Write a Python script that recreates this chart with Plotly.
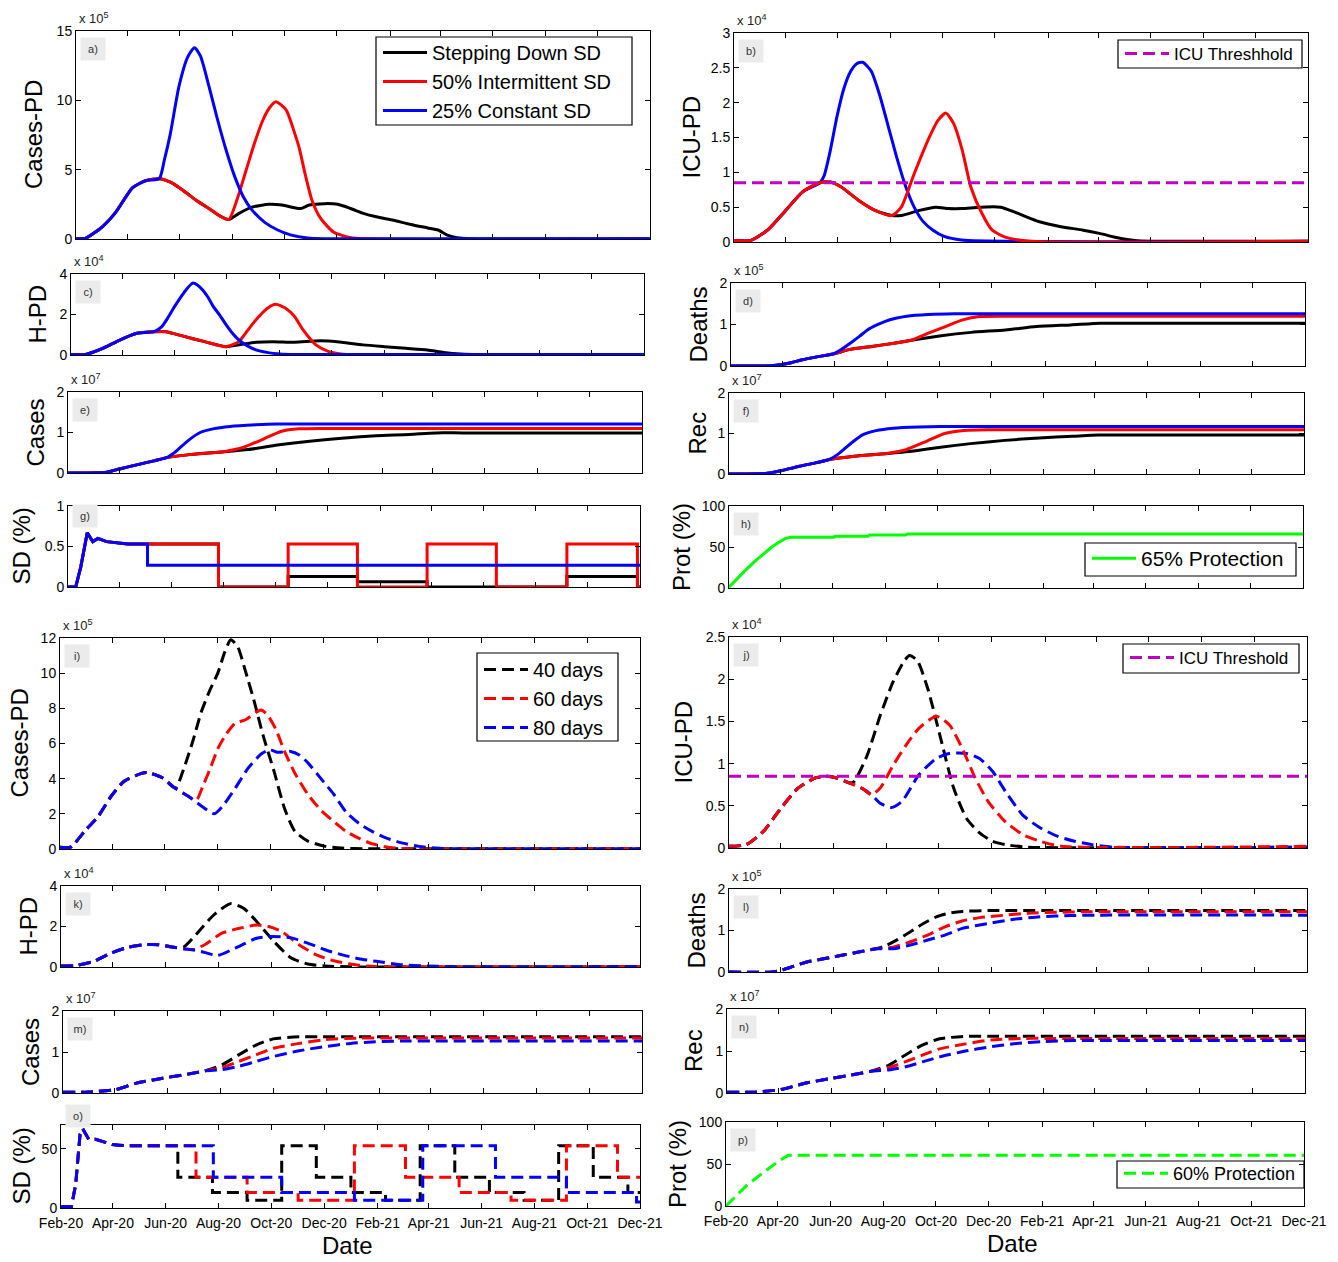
import plotly.graph_objects as go
import pandas as pd

W, H = 1338, 1262

# ---------------- time axis (days since 1 Feb 2020) ----------------
START = pd.Timestamp("2020-02-01")
TICK_LABELS = ["Feb-20", "Apr-20", "Jun-20", "Aug-20", "Oct-20", "Dec-20",
               "Feb-21", "Apr-21", "Jun-21", "Aug-21", "Oct-21", "Dec-21"]
TICK_DAYS = [(d - START).days for d in pd.date_range("2020-02-01", periods=12, freq="2MS")]
X_END = TICK_DAYS[-1]

# ---------------- a) Cases-PD (x1e5) ----------------
A_COMMON_T = [0, 11, 31, 46, 66, 81, 97]
A_COMMON_V = [0.02, 0.05, 0.9, 1.9, 3.7, 4.2, 4.35]
A_BLUE_T = [103, 110, 120, 130, 138, 145, 155, 165, 175, 185, 195, 205, 220, 235, 250, 270, 290, 669]
A_BLUE_V = [5.7, 7.6, 11.0, 13.1, 13.8, 13.2, 11.0, 8.6, 6.4, 4.5, 3.05, 2.1, 1.2, 0.65, 0.3, 0.07, 0.02, 0.02]
A_SPLIT_T = [110, 125, 140, 155, 168, 178]
A_SPLIT_V = [4.1, 3.5, 2.8, 2.2, 1.65, 1.4]
A_RED_T = [188, 198, 208, 218, 226, 233, 245, 255, 260, 267, 275, 285, 300, 315, 330, 669]
A_RED_V = [2.9, 4.9, 6.9, 8.6, 9.5, 9.9, 9.3, 7.6, 6.6, 4.7, 2.8, 1.5, 0.5, 0.17, 0.03, 0.02]
A_BLACK_T = [190, 205, 225, 240, 255, 262, 272, 290, 305, 320, 335, 350, 370, 390, 410, 422, 432, 444, 459, 669]
A_BLACK_V = [1.85, 2.3, 2.5, 2.45, 2.25, 2.2, 2.45, 2.55, 2.5, 2.2, 1.85, 1.6, 1.35, 1.05, 0.8, 0.65, 0.3, 0.1, 0.02, 0.02]

# ---------------- b) ICU-PD (x1e4) ----------------
B_COMMON_T = [0, 19, 39, 60, 80, 100]
B_COMMON_V = [0.02, 0.02, 0.17, 0.45, 0.72, 0.85]
B_BLUE_T = [105, 112, 120, 128, 136, 143, 150, 160, 170, 180, 190, 200, 210, 220, 232, 245, 265, 669]
B_BLUE_V = [0.95, 1.3, 1.8, 2.2, 2.45, 2.56, 2.58, 2.45, 2.1, 1.65, 1.2, 0.8, 0.5, 0.3, 0.17, 0.08, 0.03, 0.01]
B_SPLIT_T = [112, 125, 145, 165, 184]
B_SPLIT_V = [0.86, 0.79, 0.6, 0.45, 0.38]
B_RED_T = [195, 210, 226, 238, 247, 256, 266, 276, 289, 301, 316, 346, 669]
B_RED_V = [0.5, 0.98, 1.46, 1.75, 1.85, 1.7, 1.32, 0.79, 0.41, 0.17, 0.07, 0.01, 0.01]
B_BLACK_T = [195, 215, 235, 250, 266, 286, 311, 331, 356, 381, 407, 427, 447, 467, 488, 669]
B_BLACK_V = [0.38, 0.45, 0.5, 0.48, 0.48, 0.5, 0.5, 0.41, 0.29, 0.22, 0.17, 0.12, 0.06, 0.02, 0.01, 0.01]
ICU_THRESHOLD = 0.85

# ---------------- c) H-PD (x1e4) ----------------
C_COMMON_T = [0, 17, 37, 57, 77, 97]
C_COMMON_V = [0.03, 0.03, 0.33, 0.74, 1.07, 1.15]
C_BLUE_T = [106, 114, 121, 128, 134, 142, 148, 154, 160, 166, 174, 181, 188, 196, 206, 216, 236, 266, 669]
C_BLUE_V = [1.4, 1.9, 2.4, 2.85, 3.2, 3.55, 3.45, 3.2, 2.85, 2.4, 1.95, 1.5, 1.1, 0.74, 0.45, 0.25, 0.08, 0.02, 0.02]
C_SPLIT_T = [111, 131, 156, 181]
C_SPLIT_V = [1.15, 0.93, 0.66, 0.41]
C_RED_T = [196, 206, 216, 229, 239, 251, 261, 271, 286, 301, 321, 669]
C_RED_V = [0.66, 1.2, 1.74, 2.3, 2.5, 2.3, 1.9, 1.24, 0.5, 0.17, 0.03, 0.03]
C_BLACK_T = [196, 216, 236, 261, 291, 316, 341, 366, 391, 416, 435, 455, 475, 669]
C_BLACK_V = [0.5, 0.63, 0.66, 0.63, 0.7, 0.63, 0.5, 0.41, 0.33, 0.25, 0.13, 0.05, 0.02, 0.02]

# ---------------- d) Deaths (x1e5) ----------------
D_COMMON_T = [0, 40, 53, 70, 83, 100, 119]
D_COMMON_V = [0.0, 0.0, 0.02, 0.08, 0.15, 0.22, 0.29]
D_BLUE_T = [130, 139, 150, 159, 170, 179, 192, 205, 230, 260, 290, 669]
D_BLUE_V = [0.42, 0.55, 0.72, 0.87, 0.99, 1.07, 1.15, 1.2, 1.24, 1.26, 1.26, 1.26]
D_SPLIT_T = [139, 164, 190, 210]
D_SPLIT_V = [0.4, 0.47, 0.55, 0.62]
D_RED_T = [230, 250, 270, 290, 320, 350, 669]
D_RED_V = [0.79, 0.95, 1.11, 1.19, 1.2, 1.2, 1.2]
D_BLACK_T = [245, 280, 320, 356, 396, 431, 460, 669]
D_BLACK_V = [0.73, 0.81, 0.87, 0.95, 0.99, 1.03, 1.03, 1.03]

# ---------------- e) Cases (x1e7) ----------------
E_COMMON_T = [0, 45, 60, 80, 100, 115]
E_COMMON_V = [0.0, 0.02, 0.1, 0.2, 0.3, 0.38]
E_BLUE_T = [125, 140, 154, 169, 189, 219, 244, 270, 669]
E_BLUE_V = [0.52, 0.8, 1.0, 1.09, 1.15, 1.19, 1.21, 1.21, 1.21]
E_SPLIT_T = [144, 179]
E_SPLIT_V = [0.46, 0.52]
E_RED_T = [204, 229, 249, 269, 299, 330, 669]
E_RED_V = [0.63, 0.85, 1.03, 1.09, 1.1, 1.1, 1.1]
E_BLACK_T = [210, 244, 279, 319, 359, 398, 428, 460, 669]
E_BLACK_V = [0.58, 0.69, 0.78, 0.86, 0.92, 0.95, 0.99, 0.99, 0.99]

# ---------------- f) Rec (x1e7) ----------------
F_COMMON_T = [0, 45, 62, 82, 102, 117]
F_COMMON_V = [0.0, 0.02, 0.09, 0.19, 0.28, 0.36]
F_BLUE_T = [127, 142, 156, 171, 191, 221, 246, 270, 669]
F_BLUE_V = [0.49, 0.76, 0.97, 1.07, 1.13, 1.16, 1.17, 1.17, 1.17]
F_SPLIT_T = [146, 181]
F_SPLIT_V = [0.44, 0.5]
F_RED_T = [206, 231, 251, 271, 301, 330, 669]
F_RED_V = [0.6, 0.82, 1.0, 1.07, 1.09, 1.09, 1.09]
F_BLACK_T = [212, 246, 281, 321, 361, 400, 430, 460, 669]
F_BLACK_V = [0.56, 0.66, 0.75, 0.83, 0.89, 0.93, 0.96, 0.96, 0.96]

# ---------------- g) SD (fraction) ----------------
G_COMMON_T = [0, 9, 15, 22.5, 29, 35, 45, 60, 70]
G_COMMON_V = [0, 0, 0.25, 0.67, 0.56, 0.6, 0.56, 0.54, 0.53]
G_BLUE_T = [93, 93, 669]
G_BLUE_V = [0.53, 0.27, 0.27]
G_RED_T = [176, 176, 257.5, 257.5, 338.5, 338.5, 420, 420, 501, 501, 583.5, 583.5, 666, 666, 669]
G_RED_V = [0.53, 0, 0, 0.53, 0.53, 0, 0, 0.53, 0.53, 0, 0, 0.53, 0.53, 0, 0]
G_BLACK_T = [176, 176, 257.5, 257.5, 338.5, 338.5, 420, 420, 583.5, 583.5, 666, 666, 669]
G_BLACK_V = [0.53, 0, 0, 0.13, 0.13, 0.066, 0.066, 0, 0, 0.13, 0.13, 0, 0]

# ---------------- h) Protection (%) ----------------
H_GREEN_T = [0, 10, 20, 30, 40, 50, 60, 66, 72, 122, 124, 162, 164, 206, 208, 669]
H_GREEN_V = [1, 12, 22.5, 32.5, 41.5, 50, 57, 60.5, 62, 62, 63, 63, 64.5, 64.5, 66, 66]

# ---------------- i) Cases-PD (x1e5) ----------------
I_COMMON_T = [0, 12, 30, 44, 59, 74, 94, 101, 118, 133]
I_COMMON_V = [0.1, 0.1, 1.1, 1.85, 3.0, 3.85, 4.3, 4.35, 4.05, 3.45]
I_BLACK_T = [143, 153, 163, 173, 182, 190, 197, 205, 214, 224, 234, 247, 259, 271, 286, 306, 325, 350, 669]
I_BLACK_V = [4.6, 6.1, 7.8, 9.05, 10.0, 11.2, 11.9, 11.5, 10.1, 8.4, 6.5, 4.4, 2.3, 1.0, 0.45, 0.15, 0.05, 0.02, 0.02]
I_SPLIT_T = [148]
I_SPLIT_V = [3.0]
I_RED_T = [157, 165, 173, 182, 192, 202, 214, 227, 232, 239, 249, 259, 271, 286, 301, 316, 330, 345, 360, 375, 394, 669]
I_RED_V = [2.75, 3.6, 4.55, 5.7, 6.55, 7.15, 7.35, 7.8, 7.9, 7.65, 6.8, 5.55, 4.3, 3.1, 2.2, 1.55, 1.0, 0.6, 0.3, 0.13, 0.03, 0.02]
I_BLUE_T = [163, 178, 187, 202, 217, 232, 242, 251, 266, 276, 286, 301, 316, 330, 345, 360, 375, 394, 414, 434, 454, 669]
I_BLUE_V = [2.45, 2.0, 2.4, 3.45, 4.6, 5.4, 5.65, 5.5, 5.55, 5.35, 4.9, 4.0, 3.1, 2.1, 1.45, 1.0, 0.65, 0.35, 0.15, 0.05, 0.02, 0.02]

# ---------------- j) ICU-PD (x1e4) ----------------
J_COMMON_T = [0, 20, 40, 60, 80, 100, 113, 125, 140]
J_COMMON_V = [0.02, 0.04, 0.2, 0.47, 0.71, 0.83, 0.85, 0.83, 0.77]
J_BLACK_T = [145, 160, 175, 190, 203, 209, 218, 230, 245, 260, 275, 290, 305, 320, 345, 669]
J_BLACK_V = [0.79, 1.1, 1.57, 1.97, 2.22, 2.28, 2.22, 1.89, 1.3, 0.71, 0.35, 0.18, 0.08, 0.04, 0.01, 0.01]
J_SPLIT_T = [155, 165]
J_SPLIT_V = [0.7, 0.63]
J_RED_T = [175, 190, 205, 220, 240, 255, 270, 285, 300, 320, 340, 360, 385, 669]
J_RED_V = [0.71, 0.98, 1.22, 1.42, 1.56, 1.46, 1.18, 0.83, 0.55, 0.31, 0.16, 0.08, 0.02, 0.02]
J_BLUE_T = [175, 188, 200, 220, 240, 255, 275, 290, 305, 320, 340, 360, 380, 400, 420, 445, 669]
J_BLUE_V = [0.53, 0.48, 0.55, 0.87, 1.06, 1.12, 1.12, 1.06, 0.91, 0.67, 0.39, 0.24, 0.14, 0.08, 0.04, 0.01, 0.01]

# ---------------- k) H-PD (x1e4) ----------------
K_COMMON_T = [0, 18, 38, 58, 78, 97, 112, 132]
K_COMMON_V = [0.05, 0.08, 0.28, 0.69, 0.98, 1.1, 1.1, 0.96]
K_BLACK_T = [142, 156, 176, 196, 211, 226, 246, 266, 285, 305, 334, 669]
K_BLACK_V = [1.0, 1.6, 2.55, 3.13, 2.9, 2.25, 1.26, 0.44, 0.15, 0.05, 0.01, 0.01]
K_SPLIT_T = [142, 152]
K_SPLIT_V = [0.9, 0.85]
K_RED_T = [166, 186, 206, 226, 240, 255, 275, 295, 315, 334, 354, 374, 669]
K_RED_V = [1.1, 1.67, 1.91, 2.07, 2.0, 1.75, 1.1, 0.6, 0.31, 0.15, 0.05, 0.02, 0.02]
K_BLUE_T = [162, 181, 201, 226, 240, 265, 285, 305, 325, 344, 364, 394, 423, 448, 669]
K_BLUE_V = [0.77, 0.57, 0.93, 1.42, 1.5, 1.45, 1.18, 0.85, 0.6, 0.41, 0.28, 0.11, 0.05, 0.02, 0.02]

# ---------------- l) Deaths (x1e5) ----------------
L_COMMON_T = [0, 50, 60, 75, 90, 105, 120, 135, 150, 170]
L_COMMON_V = [0, 0, 0.04, 0.14, 0.24, 0.3, 0.36, 0.42, 0.48, 0.56]
L_BLACK_T = [180, 195, 210, 225, 240, 255, 270, 300, 330, 669]
L_BLACK_V = [0.62, 0.78, 0.97, 1.17, 1.33, 1.42, 1.46, 1.48, 1.48, 1.48]
L_RED_T = [190, 210, 230, 250, 270, 290, 320, 350, 380, 410, 669]
L_RED_V = [0.6, 0.73, 0.89, 1.09, 1.23, 1.31, 1.37, 1.42, 1.44, 1.45, 1.45]
L_BLUE_T = [190, 210, 230, 250, 270, 300, 330, 360, 395, 425, 669]
L_BLUE_V = [0.56, 0.65, 0.77, 0.89, 1.05, 1.17, 1.27, 1.33, 1.36, 1.37, 1.37]

# ---------------- m) Cases (x1e7) ----------------
M_COMMON_T = [0, 26, 60, 85, 115, 144, 164]
M_COMMON_V = [0.02, 0.02, 0.08, 0.24, 0.36, 0.46, 0.54]
M_BLACK_T = [184, 203, 223, 243, 273, 300, 669]
M_BLACK_V = [0.69, 0.93, 1.17, 1.32, 1.37, 1.37, 1.37]
M_RED_T = [184, 203, 223, 243, 273, 302, 342, 370, 669]
M_RED_V = [0.62, 0.77, 0.93, 1.09, 1.21, 1.3, 1.34, 1.34, 1.34]
M_BLUE_T = [184, 203, 223, 243, 273, 302, 332, 361, 401, 430, 669]
M_BLUE_V = [0.57, 0.65, 0.77, 0.89, 1.03, 1.13, 1.21, 1.25, 1.27, 1.27, 1.27]

# ---------------- n) Rec (x1e7) ----------------
N_COMMON_T = [0, 30, 62, 88, 118, 147, 167]
N_COMMON_V = [0.02, 0.02, 0.08, 0.22, 0.34, 0.44, 0.52]
N_BLACK_T = [187, 206, 226, 246, 276, 303, 669]
N_BLACK_V = [0.66, 0.9, 1.14, 1.29, 1.35, 1.35, 1.35]
N_RED_T = [187, 206, 226, 246, 276, 305, 345, 373, 669]
N_RED_V = [0.6, 0.74, 0.9, 1.05, 1.17, 1.26, 1.3, 1.3, 1.3]
N_BLUE_T = [187, 206, 226, 246, 276, 305, 335, 364, 404, 433, 669]
N_BLUE_V = [0.55, 0.62, 0.74, 0.86, 1.0, 1.1, 1.18, 1.22, 1.25, 1.25, 1.25]

# ---------------- o) SD (%) ----------------
O_COMMON_T = [0, 12, 17, 22, 25, 32, 40, 49, 59, 67, 77]
O_COMMON_V = [1, 1, 20, 62, 67, 58, 58, 56, 53.5, 53, 52.5]
O_BLACK_T = [135, 135, 175, 175, 215, 215, 255, 255, 295, 295, 335, 335, 375, 375, 415, 415,
             455, 455, 495, 495, 535, 535, 575, 575, 615, 615, 655, 655, 669]
O_BLACK_V = [52.5, 26, 26, 13, 13, 6.5, 6.5, 52.5, 52.5, 26, 26, 13, 13, 6.5, 6.5, 52.5,
             52.5, 26, 26, 13, 13, 6.5, 6.5, 52.5, 52.5, 26, 26, 13, 13]
O_RED_T = [156, 156, 215, 215, 274, 274, 339, 339, 398, 398, 460, 460, 520, 520, 584, 584, 643, 643, 669]
O_RED_V = [52.5, 26, 26, 13, 13, 6.5, 6.5, 52.5, 52.5, 26, 26, 13, 13, 6.5, 6.5, 52.5, 52.5, 26, 26]
O_BLUE_T = [176, 176, 255, 255, 339, 339, 418, 418, 502, 502, 584, 584, 665, 665, 669]
O_BLUE_V = [52.5, 26, 26, 13, 13, 6.5, 6.5, 52.5, 52.5, 26, 26, 13, 13, 5, 5]

# ---------------- p) Protection (%) ----------------
P_GREEN_T = [0, 24, 44, 59, 72, 669]
P_GREEN_V = [0, 24.6, 40.5, 52, 60.3, 60.3]

# ---------------- styling ----------------
BLACK, RED, BLUE, GREEN, MAG = "#000000", "#ff0000", "#0000ff", "#00ff00", "#bf00bf"
DASH = "12px,6px"
LW = 3
FONT = "Arial, Liberation Sans, sans-serif"

# panel key: (left, right, top, bottom) in px, y label, y range, y ticks, exponent, ylabel x
PANELS = [
    ("a", (76, 650, 31, 239), "Cases-PD", [0, 15], [0, 5, 10, 15], "5", 34),
    ("b", (734, 1308, 33, 242), "ICU-PD", [0, 3], [0, 0.5, 1, 1.5, 2, 2.5, 3], "4", 691),
    ("c", (71, 644, 274, 355), "H-PD", [0, 4], [0, 2, 4], "4", 37),
    ("d", (731, 1305, 283, 366), "Deaths", [0, 2], [0, 1, 2], "5", 698),
    ("e", (68, 642, 392, 473), "Cases", [0, 2], [0, 1, 2], "7", 35),
    ("f", (729, 1304, 393, 474), "Rec", [0, 2], [0, 1, 2], "7", 697),
    ("g", (68, 640, 506, 587), "SD (%)", [0, 1], [0, 0.5, 1], None, 21),
    ("h", (729, 1303, 506, 588), "Prot (%)", [0, 100], [0, 50, 100], None, 681),
    ("i", (60, 640, 638, 849), "Cases-PD", [0, 12], [0, 2, 4, 6, 8, 10, 12], "5", 19),
    ("j", (729, 1307, 637, 848), "ICU-PD", [0, 2.5], [0, 0.5, 1, 1.5, 2, 2.5], "4", 683),
    ("k", (61, 640, 886, 967), "H-PD", [0, 4], [0, 2, 4], "4", 28),
    ("l", (729, 1307, 889, 972), "Deaths", [0, 2], [0, 1, 2], "5", 696),
    ("m", (63, 642, 1011, 1093), "Cases", [0, 2], [0, 1, 2], "7", 30),
    ("n", (727, 1305, 1009, 1093), "Rec", [0, 2], [0, 1, 2], "7", 693),
    ("o", (61, 640, 1125, 1208), "SD (%)", [0, 70], [0, 50], None, 21),
    ("p", (726, 1304, 1122, 1206), "Prot (%)", [0, 100], [0, 50, 100], None, 677),
]
IDX = {p[0]: i + 1 for i, p in enumerate(PANELS)}

fig = go.Figure()


def add(key, t, v, color, dash="solid", name=None, legend=None, shape="spline"):
    i = IDX[key]
    line = dict(color=color, width=LW, dash=dash, shape=shape)
    if shape == "spline":
        line["smoothing"] = 0.6
    fig.add_trace(go.Scatter(
        x=t, y=v, mode="lines", line=line,
        xaxis="x" if i == 1 else f"x{i}", yaxis="y" if i == 1 else f"y{i}",
        name=name, showlegend=name is not None, legend=legend or "legend",
        hoverinfo="skip"))


# a
add("a", A_COMMON_T + A_SPLIT_T + A_BLACK_T, A_COMMON_V + A_SPLIT_V + A_BLACK_V, BLACK, name="Stepping Down SD", legend="legend")
add("a", A_COMMON_T + A_SPLIT_T + A_RED_T, A_COMMON_V + A_SPLIT_V + A_RED_V, RED, name="50% Intermittent SD", legend="legend")
add("a", A_COMMON_T + A_BLUE_T, A_COMMON_V + A_BLUE_V, BLUE, name="25% Constant SD", legend="legend")
# b
add("b", B_COMMON_T + B_SPLIT_T + B_BLACK_T, B_COMMON_V + B_SPLIT_V + B_BLACK_V, BLACK)
add("b", B_COMMON_T + B_BLUE_T, B_COMMON_V + B_BLUE_V, BLUE)
add("b", B_COMMON_T + B_SPLIT_T + B_RED_T, B_COMMON_V + B_SPLIT_V + B_RED_V, RED)
add("b", [0, X_END], [ICU_THRESHOLD, ICU_THRESHOLD], MAG, dash=DASH, name="ICU Threshhold", legend="legend2", shape="linear")
# c
add("c", C_COMMON_T + C_SPLIT_T + C_BLACK_T, C_COMMON_V + C_SPLIT_V + C_BLACK_V, BLACK)
add("c", C_COMMON_T + C_SPLIT_T + C_RED_T, C_COMMON_V + C_SPLIT_V + C_RED_V, RED)
add("c", C_COMMON_T + C_BLUE_T, C_COMMON_V + C_BLUE_V, BLUE)
# d
add("d", D_COMMON_T + D_SPLIT_T + D_BLACK_T, D_COMMON_V + D_SPLIT_V + D_BLACK_V, BLACK)
add("d", D_COMMON_T + D_SPLIT_T + D_RED_T, D_COMMON_V + D_SPLIT_V + D_RED_V, RED)
add("d", D_COMMON_T + D_BLUE_T, D_COMMON_V + D_BLUE_V, BLUE)
# e
add("e", E_COMMON_T + E_SPLIT_T + E_BLACK_T, E_COMMON_V + E_SPLIT_V + E_BLACK_V, BLACK)
add("e", E_COMMON_T + E_SPLIT_T + E_RED_T, E_COMMON_V + E_SPLIT_V + E_RED_V, RED)
add("e", E_COMMON_T + E_BLUE_T, E_COMMON_V + E_BLUE_V, BLUE)
# f
add("f", F_COMMON_T + F_SPLIT_T + F_BLACK_T, F_COMMON_V + F_SPLIT_V + F_BLACK_V, BLACK)
add("f", F_COMMON_T + F_SPLIT_T + F_RED_T, F_COMMON_V + F_SPLIT_V + F_RED_V, RED)
add("f", F_COMMON_T + F_BLUE_T, F_COMMON_V + F_BLUE_V, BLUE)
# g
add("g", G_COMMON_T + G_BLACK_T, G_COMMON_V + G_BLACK_V, BLACK, shape="linear")
add("g", G_COMMON_T + G_RED_T, G_COMMON_V + G_RED_V, RED, shape="linear")
add("g", G_COMMON_T + G_BLUE_T, G_COMMON_V + G_BLUE_V, BLUE, shape="linear")
# h
add("h", H_GREEN_T, H_GREEN_V, GREEN, name="65% Protection", legend="legend3", shape="linear")
# i
add("i", I_COMMON_T + I_BLACK_T, I_COMMON_V + I_BLACK_V, BLACK, dash=DASH, name="40 days", legend="legend4")
add("i", I_COMMON_T + I_SPLIT_T + I_RED_T, I_COMMON_V + I_SPLIT_V + I_RED_V, RED, dash=DASH, name="60 days", legend="legend4")
add("i", I_COMMON_T + I_SPLIT_T + I_BLUE_T, I_COMMON_V + I_SPLIT_V + I_BLUE_V, BLUE, dash=DASH, name="80 days", legend="legend4")
# j
add("j", J_COMMON_T + J_BLACK_T, J_COMMON_V + J_BLACK_V, BLACK, dash=DASH)
add("j", J_COMMON_T + J_SPLIT_T + J_BLUE_T, J_COMMON_V + J_SPLIT_V + J_BLUE_V, BLUE, dash=DASH)
add("j", J_COMMON_T + J_SPLIT_T + J_RED_T, J_COMMON_V + J_SPLIT_V + J_RED_V, RED, dash=DASH)
add("j", [0, X_END], [ICU_THRESHOLD, ICU_THRESHOLD], MAG, dash=DASH, name="ICU Threshold", legend="legend5", shape="linear")
# k
add("k", K_COMMON_T + K_BLACK_T, K_COMMON_V + K_BLACK_V, BLACK, dash=DASH)
add("k", K_COMMON_T + K_SPLIT_T + K_RED_T, K_COMMON_V + K_SPLIT_V + K_RED_V, RED, dash=DASH)
add("k", K_COMMON_T + K_SPLIT_T + K_BLUE_T, K_COMMON_V + K_SPLIT_V + K_BLUE_V, BLUE, dash=DASH)
# l
add("l", L_COMMON_T + L_BLACK_T, L_COMMON_V + L_BLACK_V, BLACK, dash=DASH)
add("l", L_COMMON_T + L_RED_T, L_COMMON_V + L_RED_V, RED, dash=DASH)
add("l", L_COMMON_T + L_BLUE_T, L_COMMON_V + L_BLUE_V, BLUE, dash=DASH)
# m
add("m", M_COMMON_T + M_BLACK_T, M_COMMON_V + M_BLACK_V, BLACK, dash=DASH)
add("m", M_COMMON_T + M_RED_T, M_COMMON_V + M_RED_V, RED, dash=DASH)
add("m", M_COMMON_T + M_BLUE_T, M_COMMON_V + M_BLUE_V, BLUE, dash=DASH)
# n
add("n", N_COMMON_T + N_BLACK_T, N_COMMON_V + N_BLACK_V, BLACK, dash=DASH)
add("n", N_COMMON_T + N_RED_T, N_COMMON_V + N_RED_V, RED, dash=DASH)
add("n", N_COMMON_T + N_BLUE_T, N_COMMON_V + N_BLUE_V, BLUE, dash=DASH)
# o
add("o", O_COMMON_T + O_BLACK_T, O_COMMON_V + O_BLACK_V, BLACK, dash=DASH, shape="linear")
add("o", O_COMMON_T + O_RED_T, O_COMMON_V + O_RED_V, RED, dash=DASH, shape="linear")
add("o", O_COMMON_T + O_BLUE_T, O_COMMON_V + O_BLUE_V, BLUE, dash=DASH, shape="linear")
# p
add("p", P_GREEN_T, P_GREEN_V, GREEN, dash=DASH, name="60% Protection", legend="legend6", shape="linear")

layout = dict(
    template="none",
    width=W, height=H, margin=dict(l=0, r=0, t=0, b=0, pad=0, autoexpand=False),
    paper_bgcolor="white", plot_bgcolor="white",
    font=dict(family=FONT, size=14, color="black"),
    showlegend=True,
)
annotations = []
shapes = []


def px(xp):
    return xp / W


def py(yp):
    return 1 - yp / H


for i, (key, (l, r, t, b), ylab, yr, yt, expo, ylx) in enumerate(PANELS, 1):
    xn = "xaxis" if i == 1 else f"xaxis{i}"
    yn = "yaxis" if i == 1 else f"yaxis{i}"
    common = dict(ticks="inside", ticklen=5, tickcolor="black", tickwidth=1,
                  showline=True, linecolor="black", linewidth=1, mirror="ticks",
                  showgrid=False, zeroline=False, automargin=False,
                  tickfont=dict(size=14, family=FONT, color="black"))
    layout[xn] = dict(domain=[px(l), px(r)], range=[0, X_END],
                      anchor="y" if i == 1 else f"y{i}",
                      tickmode="array", tickvals=TICK_DAYS, ticktext=TICK_LABELS,
                      showticklabels=key in ("o", "p"), ticklabelstandoff=2, **common)
    layout[yn] = dict(domain=[py(b), py(t)], range=yr,
                      anchor="x" if i == 1 else f"x{i}",
                      tickmode="array", tickvals=yt, **common)
    annotations.append(dict(text=ylab, x=px(ylx), y=py((t + b) / 2), xref="paper", yref="paper",
                            textangle=-90, showarrow=False, xanchor="center", yanchor="middle",
                            font=dict(size=24, family=FONT, color="black")))
    if expo:
        annotations.append(dict(text=f"x 10<sup>{expo}</sup>", x=px(l + 1), y=py(t - 3),
                                xref="paper", yref="paper", showarrow=False,
                                xanchor="left", yanchor="bottom",
                                font=dict(size=13, family=FONT, color="#222")))
    tag_top = t + 6
    if key == "o":
        tag_top = t - 21
    elif key == "g":
        tag_top = t - 2
    annotations.append(dict(text=f"{key})", x=px(l + 4), y=py(tag_top), xref="paper", yref="paper",
                            showarrow=False, xanchor="left", yanchor="top",
                            bgcolor="#ebebeb", width=22, height=20,
                            font=dict(size=11, family=FONT, color="#333")))

annotations.append(dict(text="Date", x=px(348), y=py(1245), xref="paper", yref="paper",
                        showarrow=False, xanchor="center", yanchor="middle",
                        font=dict(size=24, family=FONT, color="black")))
annotations.append(dict(text="Date", x=px(1012), y=py(1243), xref="paper", yref="paper",
                        showarrow=False, xanchor="center", yanchor="middle",
                        font=dict(size=24, family=FONT, color="black")))
layout["annotations"] = annotations

# legends: entries placed by plotly, frames drawn at the reference box positions
LEGEND_BOXES = [  # legend name, box (left, top, right, bottom), legend top, font size
    ("legend", (376, 37, 632, 125), 33, 20),
    ("legend2", (1118, 40, 1302, 68), 36, 17),
    ("legend3", (1085, 543, 1296, 576), 538, 21),
    ("legend4", (477, 653, 618, 741), 650, 20),
    ("legend5", (1123, 644, 1299, 673), 640, 17),
    ("legend6", (1117, 1161, 1304, 1188), 1155, 18),
]
for name, (x0, y0, x1, y1), ltop, fs in LEGEND_BOXES:
    layout[name] = dict(x=px(x0 + 2), y=py(ltop), xanchor="left", yanchor="top",
                        xref="paper", yref="paper",
                        bgcolor="rgba(0,0,0,0)", borderwidth=0,
                        font=dict(size=fs, family=FONT, color="black"),
                        itemwidth=44, tracegroupgap=0)
    shapes.append(dict(type="rect", xref="paper", yref="paper",
                       x0=px(x0), x1=px(x1), y0=py(y1), y1=py(y0),
                       line=dict(color="black", width=1.2), fillcolor="rgba(0,0,0,0)",
                       layer="above"))
layout["shapes"] = shapes

fig.update_layout(**layout)
fig.write_html("out.html", config={"displayModeBar": False},
               post_script="document.body.style.margin='0';")
